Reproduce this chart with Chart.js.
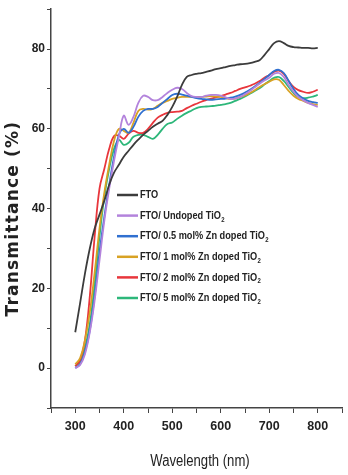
<!DOCTYPE html>
<html>
<head>
<meta charset="utf-8">
<script src="https://cdn.jsdelivr.net/npm/chart.js@4.4.1/dist/chart.umd.min.js"></script>
<style>
  html, body { margin: 0; padding: 0; background: #fff; }
  #wrap { width: 348px; height: 475px; }
</style>
</head>
<body>
<div id="wrap"><canvas id="chart" width="348" height="475"></canvas></div>
<script>
const wavelength = [300,310,320,330,340,350,360,370,380,390,400,410,420,430,440,450,460,470,480,490,500,
  510,520,530,540,550,560,570,580,590,600,610,620,630,640,650,660,670,680,690,700,
  710,720,730,740,750,760,770,780,790,800];

const fto = [9,16.3,23.7,30,35,38.5,42,46,49,51,53,54.5,56,57.3,58.5,59.5,60.5,61.3,62,63.5,65.5,
  68,71,73,73.5,73.8,74,74.3,74.6,75,75.2,75.5,75.8,76,76.2,76.3,76.5,76.8,77.2,78.5,80,
  81.5,82,81.5,80.8,80.5,80.4,80.3,80.3,80.2,80.3];

const undoped = [0,0.8,3.5,9,17,27,37,45,52,58,63.3,61,63,66.5,68.3,68,67.2,67.2,68,69,69.8,
  70.3,70,69,68.2,68,68,68.3,68.5,68.5,68.3,67.9,67.5,67.6,68,68.7,69.5,70.4,71.3,72.1,72.8,
  73.8,74,73,71,69.3,68,67.2,66.5,66,65.5];

const zn05 = [0,1,4,9.5,18,29,38,46,53,58.5,60,59,60.5,63,64.5,65,65,65.5,66.5,67.5,68.5,
  68.8,68.6,68.3,68,67.7,67.5,67.4,67.3,67.4,67.5,67.6,67.8,68.1,68.5,69.1,69.8,70.6,71.5,72.5,73.5,
  74.5,74.8,74,72,70,68.5,67.6,67,66.7,66.5];

const zn1 = [1,2.5,7,14,24,35,44,51,57,60,59.5,59,61.5,64.5,65,64.8,65,65.8,66.5,67,67.5,
  67.8,68,68,68,68,68,68.1,68.2,68.1,68,67.7,67.5,67.6,68,68.4,69,69.7,70.5,71.2,71.8,
  72.4,72.3,71,69.5,68.3,67.5,67,66.5,66.2,66];

const zn2 = [0.5,2,7,18,33,45,50,55,58.2,58.3,57.5,58.8,59.5,59,59,60,61.5,62.8,63.5,64,64.2,
  64.3,64.5,65.2,65.8,66.3,66.8,67.2,67.6,67.9,68.2,68.6,69,69.5,70,70.4,70.8,71.3,72,72.8,73.5,
  74.3,74.6,73.8,72,70.5,69.7,69.3,69,69.3,69.8];

const zn5 = [0.5,1.5,5,11,21,33,43,50,55,57.2,56,56.5,58,58.5,58.5,58,57.5,58.5,60,61.2,61.6,
  62.5,63.3,64,64.6,65.2,65.5,65.6,65.7,65.8,66,66.2,66.5,67,67.5,68.1,68.8,69.5,70.2,71.1,72,
  72.8,73,72,70.5,69,68,67.7,67.8,68.1,68.5];

const seriesLabels = ['FTO', 'FTO/ Undoped TiO₂', 'FTO/ 0.5 mol% Zn doped TiO₂',
  'FTO/ 1 mol% Zn doped TiO₂', 'FTO/ 2 mol% Zn doped TiO₂', 'FTO/ 5 mol% Zn doped TiO₂'];
const seriesValues = [fto, undoped, zn05, zn1, zn2, zn5];
const seriesColors = ['#3c3c3c', '#b383dc', '#3070d0', '#d8a224', '#e8363c', '#2db77a'];

const yTickLabels = [0, 20, 40, 60, 80];
const xTickLabels = [300, 400, 500, 600, 700, 800];
const xTitle = 'Wavelength (nm)';
const yTitle = 'Transmittance (%)';

const sans = "'Liberation Sans', Arial, sans-serif";

// legend and axis titles drawn by hand so the text can be condensed / spaced like the figure
const figureText = {
    id: 'figureText',
    afterDatasetsDraw(chart) {
        const ctx = chart.ctx;
        const area = chart.chartArea;
        ctx.save();
        ctx.fillStyle = '#222';
        ctx.textBaseline = 'middle';

        chart.data.datasets.forEach((ds, i) => {
            const y = 195 + i * 20.6;
            ctx.strokeStyle = ds.borderColor;
            ctx.lineWidth = 2.5;
            ctx.beginPath();
            ctx.moveTo(117, y);
            ctx.lineTo(138, y);
            ctx.stroke();

            let text = ds.label;
            let sub = '';
            if (text.endsWith('₂')) {
                text = text.slice(0, -1);
                sub = '2';
            }
            ctx.save();
            ctx.translate(140, y);
            ctx.scale(0.8, 1);
            ctx.textAlign = 'left';
            ctx.font = 'bold 11.5px ' + sans;
            ctx.fillText(text, 0, 0);
            if (sub) {
                const w = ctx.measureText(text).width;
                ctx.font = 'bold 7.5px ' + sans;
                ctx.fillText(sub, w + 0.5, 4);
            }
            ctx.restore();
        });

        // x title
        ctx.save();
        ctx.translate(200, 462);
        ctx.scale(0.82, 1);
        ctx.textAlign = 'center';
        ctx.font = '16px ' + sans;
        ctx.fillText(xTitle, 0, 0);
        ctx.restore();

        // y title
        ctx.save();
        ctx.translate(14, (area.top + area.bottom) / 2 + 10);
        ctx.rotate(-Math.PI / 2);
        ctx.textAlign = 'center';
        ctx.font = "bold 17px 'DejaVu Sans', sans-serif";
        ctx.letterSpacing = '1.2px';
        ctx.fillText(yTitle, 0, 0);
        ctx.restore();

        ctx.restore();
    }
};

const ctx = document.getElementById('chart').getContext('2d');
const chart = new Chart(ctx, {
    type: 'line',
    data: {
        datasets: seriesLabels.map((label, i) => ({
            label: label,
            data: wavelength.map((w, j) => ({ x: w, y: seriesValues[i][j] })),
            borderColor: seriesColors[i],
            backgroundColor: seriesColors[i],
            borderWidth: 1.8,
            pointRadius: 0,
            tension: 0.4,
            fill: false
        }))
    },
    options: {
        responsive: false,
        animation: false,
        layout: { padding: { top: 5, right: 0, left: 0, bottom: 0 } },
        plugins: {
            legend: { display: false },
            tooltip: { enabled: false }
        },
        scales: {
            x: {
                type: 'linear',
                min: 250,
                max: 850,
                afterFit: s => { s.height = 67; },
                border: { display: true, color: '#444', width: 1.5 },
                grid: { drawOnChartArea: false, drawTicks: true, tickLength: 5, color: '#444' },
                ticks: {
                    stepSize: 50,
                    autoSkip: false,
                    maxRotation: 0,
                    padding: 6,
                    color: '#222',
                    font: { family: sans, size: 12.5, weight: 'bold' },
                    callback: v => xTickLabels.includes(v) ? String(v) : ''
                }
            },
            y: {
                min: -10,
                max: 90,
                afterFit: s => { s.width = 51; },
                border: { display: true, color: '#444', width: 1.5 },
                grid: { drawOnChartArea: false, drawTicks: true, tickLength: 4, color: '#444' },
                ticks: {
                    stepSize: 10,
                    autoSkip: false,
                    padding: 2,
                    color: '#222',
                    font: { family: sans, size: 12, weight: 'bold' },
                    callback: v => yTickLabels.includes(v) ? String(v) : ''
                }
            }
        }
    },
    plugins: [figureText]
});
</script>
</body>
</html>
